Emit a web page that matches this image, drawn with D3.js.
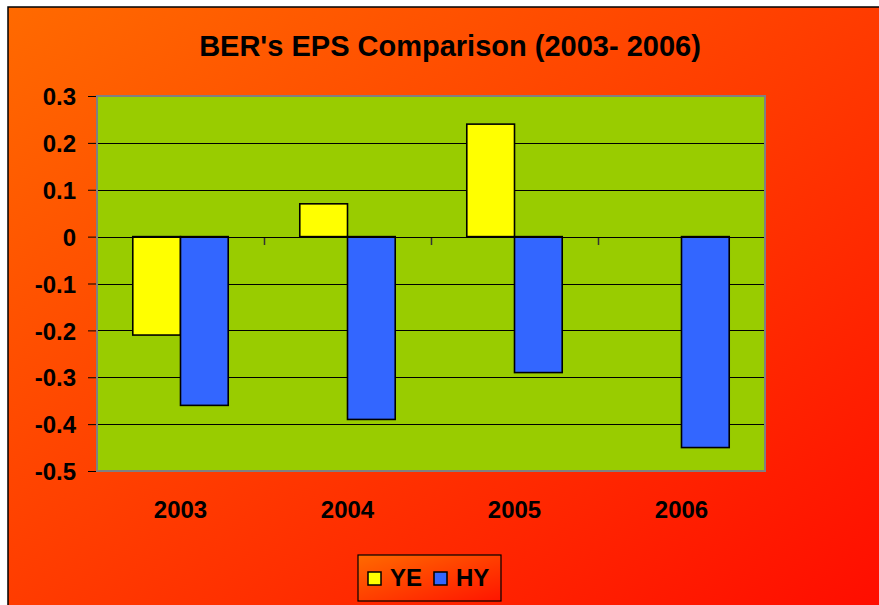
<!DOCTYPE html>
<html>
<head>
<meta charset="utf-8">
<script src="https://cdn.jsdelivr.net/npm/d3@7"></script>
<style>
  body { margin: 0; background: #fff; }
  text { font-family: Arial, "Liberation Sans", sans-serif; font-weight: bold; }
</style>
</head>
<body>
<svg id="chart" width="879" height="605"></svg>
<script>
let years = ['2003', '2004', '2005', '2006'];
let yeValues = [-0.21, 0.07, 0.24, 0];
let hyValues = [-0.36, -0.39, -0.29, -0.45];
let seriesNames = ['YE', 'HY'];
let yTicks = [0.3, 0.2, 0.1, 0, -0.1, -0.2, -0.3, -0.4, -0.5];

let colors = { YE: '#ffff00', HY: '#3366ff' };

let svg = d3.select('#chart');
let defs = svg.append('defs');

let bg = defs.append('linearGradient')
  .attr('id', 'bg').attr('x1', 0).attr('y1', 0).attr('x2', 1).attr('y2', 1);
bg.append('stop').attr('offset', '0%').attr('stop-color', '#ff6a00');
bg.append('stop').attr('offset', '100%').attr('stop-color', '#ff0a00');

// chart background
svg.append('rect')
  .attr('x', 8).attr('y', 7)
  .attr('width', 900).attr('height', 620)
  .attr('fill', 'url(#bg)')
  .attr('stroke', '#000').attr('stroke-width', 1.5);

let plot = { left: 97, right: 765, top: 96, bottom: 471 };

let x = d3.scaleBand()
  .domain(years)
  .range([plot.left, plot.right]);

let y = d3.scaleLinear()
  .domain([-0.5, 0.3])
  .range([plot.bottom, plot.top]);

// plot area
svg.append('rect')
  .attr('x', plot.left).attr('y', plot.top)
  .attr('width', plot.right - plot.left).attr('height', plot.bottom - plot.top)
  .attr('fill', '#99cc00');

// grid lines
svg.append('g')
  .selectAll('line')
  .data(yTicks.filter(d => d > -0.5 && d < 0.3))
  .join('line')
  .attr('x1', plot.left).attr('x2', plot.right)
  .attr('y1', d => Math.round(y(d)) + 0.5).attr('y2', d => Math.round(y(d)) + 0.5)
  .attr('stroke', '#000').attr('stroke-width', 1);

// y axis
let yAxis = d3.axisLeft(y)
  .tickValues(yTicks)
  .tickSize(9)
  .tickPadding(12)
  .tickFormat(d => String(Math.round(d * 10) / 10));

let ya = svg.append('g')
  .attr('transform', `translate(${plot.left},0)`)
  .call(yAxis);
ya.select('.domain').remove();
ya.selectAll('.tick line').attr('stroke', '#000');
ya.selectAll('.tick text')
  .attr('fill', '#000')
  .style('font-size', '24px')
  .attr('dy', '0.36em');

// category ticks on the zero line
let zero = Math.round(y(0));
svg.append('g')
  .selectAll('line')
  .data(years.slice(1))
  .join('line')
  .attr('x1', d => x(d) + 0.5).attr('x2', d => x(d) + 0.5)
  .attr('y1', zero).attr('y2', zero + 8)
  .attr('stroke', '#333').attr('stroke-width', 1.5);

// bars
let inner = d3.scaleBand()
  .domain(seriesNames)
  .range([0, x.bandwidth()])
  .paddingInner(0)
  .paddingOuter(0.75);

let barData = [];
years.forEach((yr, i) => {
  barData.push({ year: yr, series: 'YE', value: yeValues[i] });
  barData.push({ year: yr, series: 'HY', value: hyValues[i] });
});

svg.append('g')
  .selectAll('rect')
  .data(barData.filter(d => d.value !== 0))
  .join('rect')
  .attr('x', d => x(d.year) + inner(d.series))
  .attr('width', inner.bandwidth())
  .attr('y', d => Math.min(y(d.value), y(0)))
  .attr('height', d => Math.abs(y(d.value) - y(0)))
  .attr('fill', d => colors[d.series])
  .attr('stroke', '#000').attr('stroke-width', 1.6);

// zero line over bars
svg.append('line')
  .attr('x1', plot.left).attr('x2', plot.right)
  .attr('y1', zero + 0.5).attr('y2', zero + 0.5)
  .attr('stroke', '#000').attr('stroke-width', 1);

// plot border
svg.append('rect')
  .attr('x', plot.left).attr('y', plot.top)
  .attr('width', plot.right - plot.left).attr('height', plot.bottom - plot.top)
  .attr('fill', 'none')
  .attr('stroke', '#808080').attr('stroke-width', 2);

// category labels
svg.append('g')
  .selectAll('text')
  .data(years)
  .join('text')
  .attr('x', d => x(d) + x.bandwidth() / 2)
  .attr('y', 518)
  .attr('text-anchor', 'middle')
  .style('font-size', '24px')
  .text(d => d);

// title
svg.append('text')
  .attr('x', 450).attr('y', 56)
  .attr('text-anchor', 'middle')
  .style('font-size', '29px')
  .text("BER's EPS Comparison (2003- 2006)");

// legend
let lg = defs.append('linearGradient')
  .attr('id', 'lg').attr('x1', 0).attr('y1', 0).attr('x2', 1).attr('y2', 1);
lg.append('stop').attr('offset', '0%').attr('stop-color', '#ff6a00');
lg.append('stop').attr('offset', '100%').attr('stop-color', '#ff1500');

let legend = svg.append('g').attr('transform', 'translate(358,555)');
legend.append('rect')
  .attr('width', 143).attr('height', 46)
  .attr('fill', 'url(#lg)')
  .attr('stroke', '#000').attr('stroke-width', 1.2);

let items = legend.selectAll('g.item')
  .data(seriesNames)
  .join('g')
  .attr('class', 'item')
  .attr('transform', (d, i) => `translate(${10 + i * 66},0)`);

items.append('rect')
  .attr('x', 0).attr('y', 17)
  .attr('width', 13).attr('height', 13)
  .attr('fill', d => colors[d])
  .attr('stroke', '#000').attr('stroke-width', 1.5);

items.append('text')
  .attr('x', 22).attr('y', 31)
  .style('font-size', '24px')
  .text(d => d);
</script>
</body>
</html>
